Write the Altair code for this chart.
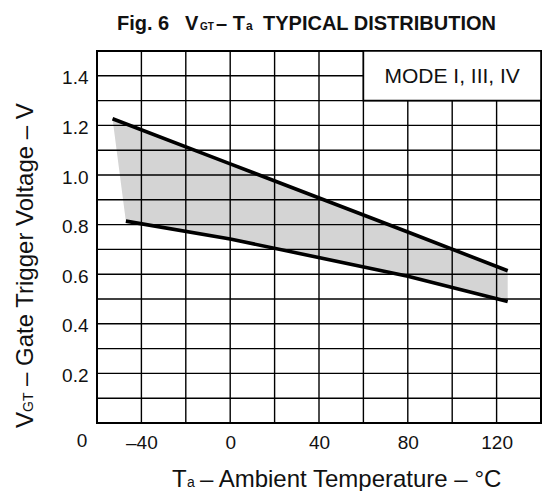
import altair as alt
import pandas as pd

# ---- data ----
upper_temp = [-53, 0, 80, 125]
upper_vgt = [1.227, 1.045, 0.77, 0.614]
lower_temp = [-47, 0, 80, 125]
lower_vgt = [0.814, 0.742, 0.592, 0.49]

x_tick_labels = [-40, 0, 40, 80, 120]
y_tick_labels = [0.2, 0.4, 0.6, 0.8, 1.0, 1.2, 1.4]
x_grid = [-40, -20, 0, 20, 40, 60, 80, 100, 120]
y_grid = [0.1, 0.2, 0.3, 0.4, 0.5, 0.6, 0.7, 0.8, 0.9, 1.0, 1.1, 1.2, 1.3, 1.4]
mode_box_t = [60, 140]
mode_box_v = [1.3, 1.5]
mode_label = "MODE I, III, IV"

W, H = 444, 372
FONT = "Liberation Sans"
INK = "#111111"

xs = alt.Scale(domain=[-60, 140], nice=False, zero=False)
ys = alt.Scale(domain=[0, 1.5], nice=False, zero=False)

x_axis = alt.Axis(values=x_tick_labels, title=None, grid=False, ticks=False, tickSize=0,
                  domain=False, labelFontSize=19, labelFont=FONT, labelColor=INK,
                  labelPadding=10, labelExpr="replace(datum.label, '\u2212', '\u2013')")
y_axis = alt.Axis(values=y_tick_labels, title=None, grid=False, ticks=False, tickSize=0,
                  domain=False, labelFontSize=19, labelFont=FONT, labelColor=INK,
                  labelPadding=9, format=".1f", labelOffset=2)

def X(field="t"):
    return alt.X(f"{field}:Q", scale=xs, axis=x_axis)

def Y(field="v"):
    return alt.Y(f"{field}:Q", scale=ys, axis=y_axis)

# shaded band polygon (upper line then lower line reversed)
poly = pd.DataFrame({
    "t": upper_temp + lower_temp[::-1],
    "v": upper_vgt + lower_vgt[::-1],
    "o": list(range(len(upper_temp) + len(lower_temp))),
})
band = alt.Chart(poly).mark_line(fill="#d4d4d4", stroke=None, strokeWidth=0, interpolate="linear").encode(
    x=X(), y=Y(), order=alt.Order("o:Q")
)

vgrid = alt.Chart(pd.DataFrame({"t": x_grid})).mark_rule(color="black", strokeWidth=1.4).encode(x=X())
hgrid = alt.Chart(pd.DataFrame({"v": y_grid})).mark_rule(color="black", strokeWidth=1.4).encode(y=Y())

box = alt.Chart(pd.DataFrame({"t": [mode_box_t[0]], "t2": [mode_box_t[1]],
                              "v": [mode_box_v[0]], "v2": [mode_box_v[1]]})).mark_rect(
    fill="white", stroke="black", strokeWidth=1.6
).encode(x=X(), x2="t2:Q", y=Y(), y2="v2:Q")

mode_txt = alt.Chart(pd.DataFrame({"t": [100], "v": [1.4], "s": [mode_label]})).mark_text(
    font=FONT, fontSize=21, color=INK, align="center", baseline="middle", dy=1
).encode(x=X(), y=Y(), text="s:N")

up_df = pd.DataFrame({"t": upper_temp, "v": upper_vgt})
lo_df = pd.DataFrame({"t": lower_temp, "v": lower_vgt})
up_line = alt.Chart(up_df).mark_line(color="black", strokeWidth=3.6).encode(x=X(), y=Y())
lo_line = alt.Chart(lo_df).mark_line(color="black", strokeWidth=3.6).encode(x=X(), y=Y())

one = pd.DataFrame({"a": [0]})

def txt(s, x, y, size, bold=False, angle=0, align="left", baseline="alphabetic"):
    kw = dict(font=FONT, fontSize=size, color=INK, align=align, baseline=baseline)
    if bold:
        kw["fontWeight"] = "bold"
    if angle:
        kw["angle"] = angle
    return alt.Chart(one).mark_text(**kw).encode(
        x=alt.value(x), y=alt.value(y), text=alt.value(s)
    )

texts = [
    # title
    txt("Fig. 6", 20, -21, 20, bold=True),
    txt("V", 88, -21, 20, bold=True),
    txt("GT", 103, -21, 10, bold=True),
    txt("\u2013 T", 119, -21, 20, bold=True),
    txt("a", 149, -21, 12, bold=True),
    txt("TYPICAL DISTRIBUTION", 166, -21, 20, bold=True),
    # origin label
    txt("0", -15, 390, 19, align="center", baseline="middle"),
    # x title
    txt("T", 75, 436, 24),
    txt("a", 90, 436, 14),
    txt("\u2013 Ambient Temperature \u2013 \u00b0C", 103, 436, 24),
    # y title (rotated)
    txt("V", -64, 377, 24, angle=270),
    txt("GT", -64, 361, 14, angle=270),
    txt("\u2013 Gate Trigger Voltage \u2013 V", -64, 335, 24, angle=270),
]

chart = alt.layer(band, vgrid, hgrid, box, up_line, lo_line, mode_txt, *texts).properties(
    width=W, height=H,
    autosize=alt.AutoSizeParams(type="none"),
    padding={"left": 97, "top": 51, "right": 1, "bottom": 68},
    background="white",
).configure_view(stroke="black", strokeWidth=2)

chart.save("out.html", embed_options={"renderer": "svg", "actions": False})
